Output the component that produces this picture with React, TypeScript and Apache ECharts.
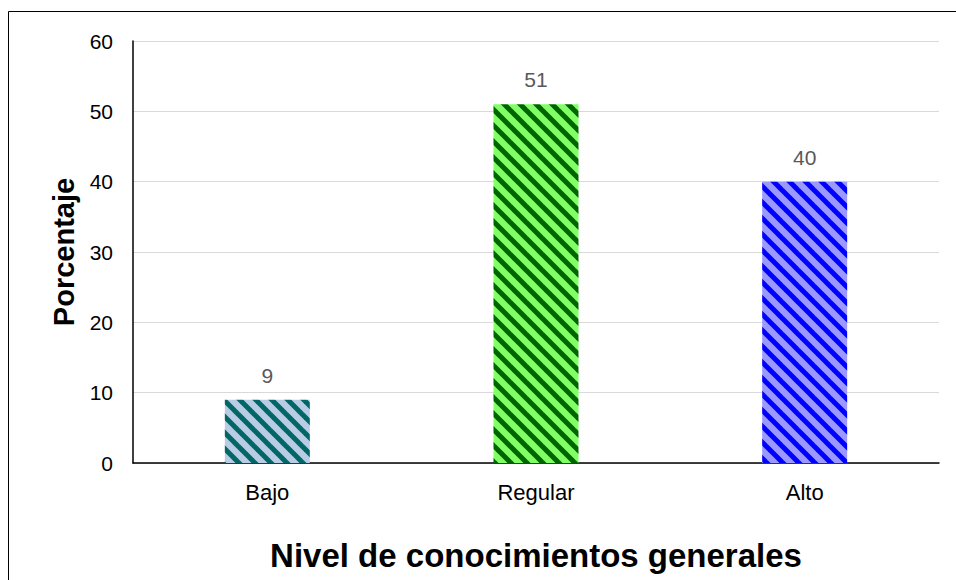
import React, { useEffect, useRef } from "react";
import * as echarts from "echarts";

const categories = ["Bajo", "Regular", "Alto"];
const values = [9, 51, 40];
const lightColors = ["#b8cce4", "#80ff66", "#9999ff"];
const darkColors = ["#006666", "#006400", "#0000ff"];
const yTicks = [0, 10, 20, 30, 40, 50, 60];

function makePattern(light: string, dark: string): HTMLCanvasElement {
  const s = 16;
  const c = document.createElement("canvas");
  c.width = s;
  c.height = s;
  const ctx = c.getContext("2d")!;
  ctx.fillStyle = light;
  ctx.fillRect(0, 0, s, s);
  ctx.strokeStyle = dark;
  ctx.lineWidth = 5;
  for (const k of [-s, 0, s]) {
    ctx.beginPath();
    ctx.moveTo(k - 2, -2);
    ctx.lineTo(k + s + 2, s + 2);
    ctx.stroke();
  }
  return c;
}

export default function App() {
  const ref = useRef<HTMLDivElement>(null);
  useEffect(() => {
    const chart = echarts.init(ref.current!, undefined, { renderer: "svg" });
    const data = values.map((v, i) => ({
      value: v,
      itemStyle: {
        color: { image: makePattern(lightColors[i], darkColors[i]), repeat: "repeat" } as any,
      },
    }));
    chart.setOption({
      animation: false,
      backgroundColor: "#ffffff",
      grid: { left: 133, right: 17, top: 41, bottom: 117 },
      graphic: [
        {
          type: "rect",
          shape: { x: 8.5, y: 11.5, width: 1000, height: 700 },
          style: { fill: "none", stroke: "#000", lineWidth: 1 },
          silent: true,
        },
      ],
      xAxis: {
        type: "category",
        data: categories,
        name: "Nivel de conocimientos generales",
        nameLocation: "middle",
        nameGap: 76,
        nameTextStyle: { fontFamily: "Liberation Sans", fontWeight: "bold", fontSize: 33, color: "#000" },
        axisLine: { lineStyle: { color: "#000", width: 1.5 } },
        axisTick: { show: false },
        axisLabel: { fontFamily: "Liberation Sans", fontSize: 22, color: "#000", margin: 18 },
      },
      yAxis: {
        type: "value",
        min: yTicks[0],
        max: yTicks[yTicks.length - 1],
        interval: 10,
        name: "Porcentaje",
        nameLocation: "middle",
        nameGap: 55,
        nameTextStyle: { fontFamily: "Liberation Sans", fontWeight: "bold", fontSize: 29, color: "#000" },
        axisLine: { show: true, lineStyle: { color: "#000", width: 1.5 } },
        axisTick: { show: false },
        splitLine: { lineStyle: { color: "#d9d9d9", width: 1 } },
        axisLabel: { fontFamily: "Liberation Sans", fontSize: 21, color: "#000", margin: 20 },
      },
      series: [
        {
          type: "bar",
          data,
          barWidth: 85,
          label: {
            show: true,
            position: "top",
            distance: 14,
            fontFamily: "Liberation Sans",
            fontSize: 21,
            color: "#595959",
          },
        },
      ],
    });
    return () => chart.dispose();
  }, []);
  return (
    <div
      ref={ref}
      style={{ position: "fixed", left: 0, top: 0, width: 956, height: 580 }}
    />
  );
}
